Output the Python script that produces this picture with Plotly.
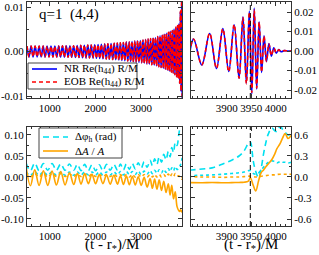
import plotly.graph_objects as go

# ---------------- data ----------------
# Re(h44) R/M : times of successive extrema and their values
t_wave = [500, 545, 590, 634, 678, 722, 766, 810, 854, 897, 940, 983,
          1026, 1069, 1111, 1153, 1195, 1237, 1278, 1319, 1360, 1401, 1442, 1482,
          1522, 1562, 1601, 1640, 1679, 1718, 1757, 1795, 1833, 1871, 1909, 1947, 1985,
          2022, 2059, 2095, 2131, 2167, 2203, 2239, 2274, 2309, 2344, 2379, 2413, 2447, 2481,
          2515, 2548, 2581, 2614, 2646, 2678, 2710, 2742, 2773, 2804, 2835, 2866, 2896, 2926, 2956, 2986,
          3015, 3044, 3073, 3101, 3129, 3157, 3184, 3211, 3238, 3265, 3291,
          3317, 3343, 3368, 3393, 3418, 3442, 3466, 3490,
          3513, 3536, 3558, 3580, 3602, 3623, 3644, 3665, 3686,
          3706, 3726, 3745, 3764, 3783, 3801, 3818,
          3832, 3849, 3865, 3879, 3892, 3904, 3915, 3925, 3933, 3940, 3946, 3951, 3956,
          3961, 3966, 3971, 3976, 3981, 3986, 3991, 3996, 4001, 4006, 4011, 4017, 4025, 4035]
h_nr = [0.0012, -0.0012, 0.0012, -0.0012, 0.0012, -0.0012, 0.0012, -0.0012, 0.0012, -0.0012, 0.0012, -0.0012,
        0.0012, -0.00121, 0.00122, -0.00123, 0.00124, -0.00125, 0.00126, -0.00126, 0.00127, -0.00128, 0.00129, -0.0013,
        0.00131, -0.00132, 0.00134, -0.00136, 0.00137, -0.00139, 0.0014, -0.00142, 0.00143, -0.00145, 0.00146, -0.00148, 0.00149,
        -0.00152, 0.00155, -0.00158, 0.0016, -0.00163, 0.00166, -0.00169, 0.00172, -0.00175, 0.00178, -0.0018, 0.00183, -0.00186, 0.00188,
        -0.00192, 0.00196, -0.002, 0.00204, -0.00208, 0.00211, -0.00215, 0.00219, -0.00223, 0.00226, -0.0023, 0.00234, -0.00238, 0.00241, -0.00245, 0.00248,
        -0.00253, 0.00259, -0.00265, 0.0027, -0.00276, 0.00281, -0.00287, 0.00292, -0.00298, 0.00303, -0.00308,
        0.00316, -0.00325, 0.00334, -0.00343, 0.00351, -0.0036, 0.00368, -0.00377,
        0.00387, -0.00398, 0.00409, -0.0042, 0.00431, -0.00442, 0.00452, -0.00463, 0.00473,
        -0.00483, 0.00504, -0.00524, 0.00544, -0.00564, 0.00583, -0.00601,
        0.0062, -0.0072, 0.009, -0.009, 0.0115, -0.0105, 0.0135, -0.014, 0.0175, -0.0165, 0.0205, -0.022, 0.022,
        -0.0195, 0.015, -0.011, 0.0078, -0.0055, 0.0038, -0.0026, 0.0017, -0.0011, 0.0007, -0.0004, 0.0002, 0.0, 0.0]
h_eob = [0.0012, -0.0012, 0.0012, -0.0012, 0.0012, -0.0012, 0.0012, -0.0012, 0.0012, -0.0012, 0.0012, -0.0012,
         0.0012, -0.00121, 0.00122, -0.00123, 0.00124, -0.00125, 0.00126, -0.00126, 0.00127, -0.00128, 0.00129, -0.0013,
         0.00131, -0.00132, 0.00134, -0.00136, 0.00137, -0.00139, 0.0014, -0.00142, 0.00143, -0.00145, 0.00146, -0.00148, 0.00149,
         -0.00152, 0.00155, -0.00158, 0.0016, -0.00163, 0.00166, -0.00169, 0.00172, -0.00175, 0.00178, -0.0018, 0.00183, -0.00186, 0.00188,
         -0.00192, 0.00196, -0.002, 0.00204, -0.00208, 0.00211, -0.00215, 0.00219, -0.00223, 0.00226, -0.0023, 0.00234, -0.00238, 0.00241, -0.00245, 0.00248,
         -0.00253, 0.00259, -0.00265, 0.0027, -0.00276, 0.00281, -0.00287, 0.00292, -0.00298, 0.00303, -0.00308,
         0.00316, -0.00325, 0.00334, -0.00343, 0.00351, -0.0036, 0.00368, -0.00377,
         0.00387, -0.00398, 0.00409, -0.0042, 0.00431, -0.00442, 0.00452, -0.00463, 0.00473,
         -0.00483, 0.00504, -0.00524, 0.00544, -0.00564, 0.00583, -0.00601,
         0.0062, -0.0071, 0.0091, -0.0089, 0.0114, -0.0106, 0.0136, -0.0139, 0.0172, -0.0168, 0.0200, -0.0212, 0.0210,
         -0.0190, 0.0148, -0.0108, 0.0076, -0.0053, 0.0036, -0.0024, 0.0015, -0.0010, 0.0006, -0.0003, 0.0002, 0.0, 0.0]

# phase / amplitude differences
t_err = [480, 575, 670, 765, 860, 955, 1050, 1145, 1240, 1335, 1430, 1525,
         1605, 1685, 1765, 1845, 1925, 2005, 2085, 2165, 2245, 2325, 2405, 2485,
         2550, 2615, 2680, 2745, 2810, 2875, 2940, 3005, 3070, 3135, 3200,
         3250, 3300, 3350, 3400, 3450, 3500, 3550, 3600,
         3638, 3676, 3714, 3752, 3790, 3828,
         3850, 3870, 3893, 3910, 3925, 3935, 3944, 3948, 3954, 3959, 3965, 3970,
         3975, 3980, 3985, 3992, 3998, 4002, 4009, 4014, 4019, 4025, 4032]
dphi = [0.033, 0.015, 0.033, 0.015, 0.032, 0.016, 0.032, 0.016, 0.031, 0.016, 0.031, 0.016,
        0.030, 0.015, 0.030, 0.015, 0.029, 0.015, 0.029, 0.015, 0.030, 0.016, 0.030, 0.016,
        0.031, 0.017, 0.031, 0.018, 0.032, 0.019, 0.034, 0.021, 0.036, 0.023, 0.040,
        0.027, 0.043, 0.030, 0.048, 0.035, 0.054, 0.041, 0.061,
        0.048, 0.070, 0.058, 0.082, 0.075, 0.100,
        0.115, 0.13, 0.19, 0.24, 0.30, 0.37, 0.48, 0.50, 0.23, 0.08, -0.01, 0.12,
        0.33, 0.50, 0.62, 0.70, 0.66, 0.65, 0.72, 0.68, 0.64, 0.60, 0.62]
dA = [0.025, -0.021, 0.017, -0.020, 0.015, -0.020, 0.014, -0.019, 0.013, -0.019, 0.010, -0.018,
      0.009, -0.017, 0.008, -0.016, 0.0065, -0.016, 0.0055, -0.016, 0.0045, -0.017, 0.004, -0.017,
      0.003, -0.018, 0.002, -0.0185, 0.001, -0.019, 0.0005, -0.020, -0.001, -0.024, -0.004,
      -0.027, -0.005, -0.029, -0.007, -0.032, -0.010, -0.037, -0.016,
      -0.043, -0.020, -0.052, -0.035, -0.070, -0.080,
      -0.082, -0.078, -0.083, -0.080, -0.078, -0.075, -0.06, -0.01, -0.12, -0.20, -0.05, 0.06,
      0.10, 0.15, 0.19, 0.25, 0.33, 0.40, 0.48, 0.56, 0.62, 0.55, 0.60]
dphi_dot = [0.012, 0.004, 0.012, 0.004, 0.012, 0.004, 0.012, 0.004, 0.012, 0.004, 0.012, 0.004,
            0.012, 0.005, 0.012, 0.005, 0.012, 0.005, 0.012, 0.005, 0.012, 0.005, 0.012, 0.005,
            0.013, 0.005, 0.013, 0.006, 0.013, 0.006, 0.014, 0.006, 0.014, 0.007, 0.015,
            0.008, 0.016, 0.009, 0.017, 0.010, 0.018, 0.011, 0.020,
            0.013, 0.022, 0.015, 0.025, 0.018, 0.020,
            0.025, 0.03, 0.04, 0.05, 0.06, 0.07, 0.09, 0.09, 0.05, 0.04, 0.06, 0.10,
            0.14, 0.18, 0.21, 0.23, 0.22, 0.20, 0.22, 0.21, 0.21, 0.20, 0.21]
dA_dot = [0.009, 0.0, 0.008, 0.0, 0.008, 0.0, 0.008, 0.001, 0.008, 0.001, 0.007, 0.001,
          0.007, 0.001, 0.007, 0.001, 0.007, 0.001, 0.006, 0.001, 0.006, 0.001, 0.006, 0.001,
          0.006, 0.0, 0.006, 0.0, 0.006, 0.0, 0.006, 0.0, 0.006, 0.0, 0.006,
          0.0, 0.006, 0.0, 0.006, 0.0, 0.006, 0.0, 0.007,
          0.0, 0.007, 0.001, 0.008, 0.002, 0.003,
          0.0, 0.0, -0.005, 0.0, 0.0, 0.005, 0.01, 0.015, 0.005, 0.0, 0.0, 0.01,
          0.015, 0.02, 0.025, 0.03, 0.03, 0.035, 0.04, 0.04, 0.04, 0.04, 0.04]

t_merger = 3948

# axis ticks
ticks_left_x = [1000, 2000, 3000]
ticks_right_x = [3900, 3950, 4000]
ticks_wave_l = [-0.01, 0.0, 0.01]
labels_wave_l = ["-0.01", "0.00", "0.01"]
ticks_wave_r = [-0.02, -0.01, 0.0, 0.01, 0.02]
labels_wave_r = ["-0.02", "-0.01", "0.00", "0.01", "0.02"]
ticks_err_l = [-0.10, -0.05, 0.0, 0.05, 0.10]
labels_err_l = ["-0.10", "-0.05", "0.00", "0.05", "0.10"]
ticks_err_r = [-0.6, -0.3, 0.0, 0.3, 0.6]
labels_err_r = ["-0.6", "-0.3", "0.0", "0.3", "0.6"]
x_title = "(t - r<sub>*</sub>)/M"

# ---------------- figure ----------------
SERIF = "Liberation Serif"
BLUE = "#0000ff"
RED = "#ff0000"
CYAN = "#00e0f0"
ORANGE = "#ffa500"
W, H = 319, 255

fig = go.Figure()

def add_line(x, y, name, color, dash, xa, ya):
    fig.add_trace(go.Scatter(x=x, y=y, mode="lines", name=name,
                             line=dict(color=color, dash=dash, width=1.6, shape="spline", smoothing=1),
                             xaxis=xa, yaxis=ya, showlegend=False))

for xa, ya in (("x", "y"), ("x2", "y2")):
    add_line(t_wave, h_nr, "NR Re(h44) R/M", BLUE, "solid", xa, ya)
    add_line(t_wave, h_eob, "EOB Re(h44) R/M", RED, "4px,3px", xa, ya)

for xa, ya in (("x3", "y3"), ("x4", "y4")):
    add_line(t_err, dphi_dot, "Δφh dotted", CYAN, "dot", xa, ya)
    add_line(t_err, dA_dot, "ΔA/A dotted", ORANGE, "dot", xa, ya)
    add_line(t_err, dphi, "Δφh (rad)", CYAN, "6px,4px", xa, ya)
    add_line(t_err, dA, "ΔA / A", ORANGE, "solid", xa, ya)

xl = [27 / W, 182 / W]
xr = [191 / W, 291 / W]
yt = [1 - 98 / H, 1 - 1.5 / H]
yb = [1 - 226 / H, 1 - 127 / H]

tickfont = dict(family=SERIF, size=11, color="black")
common = dict(showline=True, linecolor="#333", linewidth=1, mirror="ticks",
              ticks="inside", ticklen=4, tickwidth=1, tickcolor="#333",
              showgrid=False, zeroline=False, tickfont=tickfont, tickangle=0,
              automargin=False,
              minor=dict(ticks="inside", ticklen=2, tickcolor="#333", showgrid=False))

# legend (drawn in paper space)
def px(x):
    return x / W

def py(y):
    return 1 - y / H

legend_items = [
    # (sample x0, x1, y, color, dash, text, text x)
    (32, 57, 69, BLUE, "solid", "NR Re(h<sub>44</sub>) R/M", 62),
    (32, 57, 82, RED, "4px,3px", "EOB Re(h<sub>44</sub>) R/M", 62),
    (43, 68, 137, CYAN, "6px,4px", "Δφ<sub>h</sub> (rad)", 73),
    (43, 68, 151, ORANGE, "solid", "Δ<i>A</i> / <i>A</i>", 73),
]
shapes = [
    dict(type="rect", xref="paper", yref="paper", x0=px(28), x1=px(137), y0=py(89), y1=py(63),
         line=dict(color="#444", width=1), fillcolor="white", layer="above"),
    dict(type="rect", xref="paper", yref="paper", x0=px(39), x1=px(122), y0=py(158), y1=py(128),
         line=dict(color="#444", width=1), fillcolor="white", layer="above"),
    dict(type="line", xref="x2", yref="y2 domain", x0=t_merger, x1=t_merger, y0=0, y1=1,
         line=dict(color="black", width=1, dash="5px,3px")),
    dict(type="line", xref="x4", yref="y4 domain", x0=t_merger, x1=t_merger, y0=0, y1=1,
         line=dict(color="black", width=1, dash="5px,3px")),
]
annotations = [
    dict(text="q=1  (4,4)", x=px(37), y=py(14), xref="paper", yref="paper",
         xanchor="left", yanchor="middle", showarrow=False,
         font=dict(family=SERIF, size=15, color="black")),
    # x-axis titles under the two lower panels
    dict(text=x_title, x=px(112), y=py(255), xref="paper", yref="paper",
         xanchor="center", yanchor="bottom", showarrow=False, borderpad=0,
         font=dict(family=SERIF, size=15, color="black")),
    dict(text=x_title, x=px(251), y=py(255), xref="paper", yref="paper",
         xanchor="center", yanchor="bottom", showarrow=False, borderpad=0,
         font=dict(family=SERIF, size=15, color="black")),
]
for x0, x1, yy, col, dash, txt, tx in legend_items:
    shapes.append(dict(type="line", xref="paper", yref="paper", x0=px(x0), x1=px(x1),
                       y0=py(yy), y1=py(yy), line=dict(color=col, width=1.6, dash=dash), layer="above"))
    annotations.append(dict(text=txt, x=px(tx), y=py(yy), xref="paper", yref="paper",
                            xanchor="left", yanchor="middle", showarrow=False,
                            font=dict(family=SERIF, size=11, color="black")))

fig.update_layout(
    template="none",
    width=W, height=H, margin=dict(l=0, r=0, t=0, b=0, pad=0, autoexpand=False),
    paper_bgcolor="white", plot_bgcolor="white", showlegend=False,
    xaxis=dict(domain=xl, range=[500, 3900], anchor="y", tickvals=ticks_left_x,
               minor_dtick=200, **common),
    yaxis=dict(domain=yt, range=[-0.01045, 0.01124], anchor="x", tickvals=ticks_wave_l,
               ticktext=labels_wave_l, minor_dtick=0.005, **common),
    xaxis2=dict(domain=xr, range=[3827, 4031], anchor="y2", tickvals=ticks_right_x,
                minor_dtick=10, **common),
    yaxis2=dict(domain=yt, range=[-0.0241, 0.0254], anchor="x2", side="right",
                tickvals=ticks_wave_r, ticktext=labels_wave_r, minor_dtick=0.005, **common),
    xaxis3=dict(domain=xl, range=[500, 3900], anchor="y3", tickvals=ticks_left_x,
                minor_dtick=200, **common),
    yaxis3=dict(domain=yb, range=[-0.1167, 0.119], anchor="x3", tickvals=ticks_err_l,
                ticktext=labels_err_l, minor_dtick=0.025, **common),
    xaxis4=dict(domain=xr, range=[3827, 4031], anchor="y4", tickvals=ticks_right_x,
                minor_dtick=10, **common),
    yaxis4=dict(domain=yb, range=[-0.70, 0.714], anchor="x4", side="right",
                tickvals=ticks_err_r, ticktext=labels_err_r, minor_dtick=0.15, **common),
    annotations=annotations,
    shapes=shapes,
)

fig.write_html("out.html", config={"displayModeBar": False},
               post_script="document.body.style.margin='0';document.body.style.padding='0';"
                           "document.body.style.overflow='hidden';")
